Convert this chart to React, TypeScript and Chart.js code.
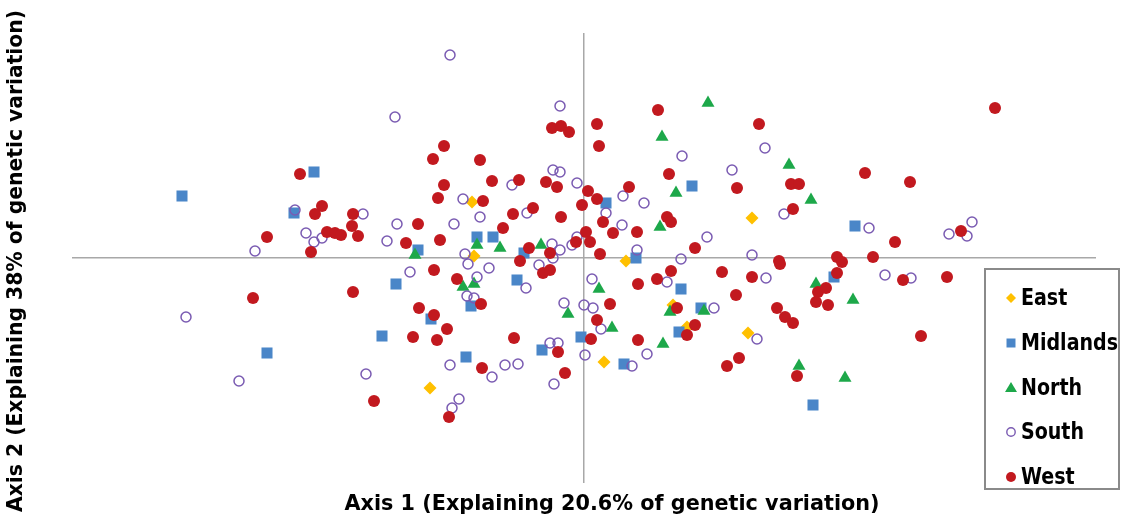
import React, { useEffect, useRef } from 'react';
import { Chart, registerables } from 'chart.js';

Chart.register(...registerables);

// Axis scores (axis 1 = x, axis 2 = y)
const eastPoints: [number, number][] = [
  [-1.12, 0.56], [-1.10, 0.02], [1.68, 0.40], [0.42, -0.03], [0.89, -0.47],
  [1.03, -0.69], [1.64, -0.75], [-1.54, -1.30], [0.20, -1.04],
];

const midlandsPoints: [number, number][] = [
  [-2.70, 0.86], [-4.02, 0.62], [-2.90, 0.45], [1.08, 0.72], [-1.66, 0.08],
  [-1.07, 0.21], [-0.91, 0.21], [-0.60, 0.05], [-0.67, -0.22], [-1.88, -0.26],
  [-1.13, -0.48], [-1.53, -0.61], [-2.02, -0.78], [-0.03, -0.79], [0.22, 0.55],
  [0.52, 0.00], [2.50, -0.19], [0.97, -0.31], [1.17, -0.50], [0.95, -0.74],
  [2.71, 0.32], [-3.17, -0.95], [-0.42, -0.92], [-1.18, -0.99], [0.40, -1.06],
  [2.29, -1.47],
];

const northPoints: [number, number][] = [
  [1.24, 1.55], [0.78, 1.21], [2.05, 0.93], [0.92, 0.65], [-1.69, 0.03],
  [-1.07, 0.13], [-0.84, 0.10], [-0.43, 0.13], [-1.21, -0.29], [-1.10, -0.26],
  [-0.16, -0.56], [2.27, 0.58], [0.76, 0.31], [0.15, -0.31], [2.32, -0.26],
  [2.69, -0.42], [0.86, -0.54], [1.20, -0.53], [0.28, -0.70], [0.79, -0.86],
  [2.15, -1.08], [2.61, -1.20],
];

const southPoints: [number, number][] = [
  [-1.34, 2.03], [-1.89, 1.41], [-0.24, 1.52], [-0.31, 0.88], [-0.24, 0.86],
  [-0.07, 0.75], [-0.72, 0.73], [0.98, 1.02], [1.81, 1.10], [1.48, 0.88],
  [-2.89, 0.48], [-2.78, 0.25], [-2.70, 0.16], [-2.62, 0.20], [-3.29, 0.07],
  [-3.98, -0.59], [-1.21, 0.59], [-2.21, 0.44], [-1.87, 0.34], [-1.30, 0.34],
  [-1.04, 0.41], [-0.57, 0.45], [-1.97, 0.17], [-0.07, 0.21], [-0.32, 0.14],
  [-0.24, 0.08], [-0.31, 0.00], [-0.12, 0.13], [-1.19, 0.04], [-1.16, -0.06],
  [-0.45, -0.07], [-1.74, -0.14], [-0.95, -0.10], [-1.07, -0.19], [-0.58, -0.30],
  [-1.17, -0.38], [-1.10, -0.40], [-0.20, -0.45], [0.00, -0.47], [-0.34, -0.85],
  [-0.26, -0.85], [0.39, 0.62], [0.60, 0.55], [0.22, 0.45], [2.00, 0.44],
  [0.38, 0.33], [1.23, 0.21], [0.53, 0.08], [0.97, -0.01], [0.83, -0.24],
  [1.68, 0.03], [1.82, -0.20], [0.08, -0.21], [0.09, -0.50], [1.30, -0.50],
  [0.17, -0.71], [1.73, -0.81], [2.85, 0.30], [3.65, 0.24], [3.88, 0.36],
  [3.83, 0.22], [3.01, -0.17], [3.27, -0.20], [-3.45, -1.23], [-1.34, -1.07],
  [-0.79, -1.07], [-0.66, -1.06], [-2.18, -1.16], [-0.92, -1.19], [0.01, -0.97],
  [-0.30, -1.26], [-1.25, -1.41], [-1.32, -1.50], [0.48, -1.08], [0.63, -0.96],
];

const westPoints: [number, number][] = [
  [-2.84, 0.84], [-0.32, 1.30], [-0.23, 1.32], [-0.15, 1.26], [-1.40, 1.12],
  [-1.51, 0.99], [-1.04, 0.98], [-0.92, 0.77], [-0.65, 0.78], [-0.38, 0.76],
  [-0.27, 0.71], [-1.40, 0.73], [0.74, 1.48], [0.13, 1.34], [1.75, 1.34],
  [0.15, 1.12], [0.85, 0.84], [0.45, 0.71], [1.53, 0.70], [2.07, 0.74],
  [2.15, 0.74], [0.04, 0.67], [4.11, 1.50], [2.81, 0.85], [3.26, 0.76],
  [-2.62, 0.52], [-2.69, 0.44], [-2.57, 0.26], [-3.17, 0.21], [-2.73, 0.06],
  [-3.31, -0.40], [-1.46, 0.60], [-1.01, 0.57], [-2.31, 0.44], [-1.66, 0.34],
  [-0.71, 0.44], [-0.51, 0.50], [-0.23, 0.41], [-0.02, 0.53], [-0.81, 0.30],
  [-2.32, 0.32], [-2.49, 0.25], [-2.43, 0.23], [-2.26, 0.22], [-1.78, 0.15],
  [-1.44, 0.18], [-0.55, 0.10], [-0.34, 0.05], [-0.08, 0.16], [0.02, 0.26],
  [-0.64, -0.03], [-0.41, -0.15], [-0.34, -0.12], [-1.50, -0.12], [-1.27, -0.21],
  [-2.31, -0.34], [-1.03, -0.46], [-1.65, -0.50], [-1.50, -0.57], [-1.37, -0.71],
  [-1.71, -0.79], [-1.47, -0.82], [-0.70, -0.80], [0.13, 0.59], [2.09, 0.49],
  [0.83, 0.41], [0.87, 0.36], [0.19, 0.36], [0.29, 0.25], [0.53, 0.26],
  [1.11, 0.10], [0.06, 0.16], [0.16, 0.04], [0.87, -0.13], [0.73, -0.21],
  [0.54, -0.26], [1.38, -0.14], [1.95, -0.03], [1.96, -0.06], [1.68, -0.19],
  [2.53, 0.01], [2.58, -0.04], [2.53, -0.15], [1.52, -0.37], [2.34, -0.34],
  [2.42, -0.30], [2.32, -0.44], [2.44, -0.47], [0.26, -0.46], [0.93, -0.50],
  [1.93, -0.50], [2.01, -0.59], [2.09, -0.65], [0.13, -0.62], [1.11, -0.67],
  [1.03, -0.77], [0.54, -0.82], [0.07, -0.81], [3.11, 0.16], [3.77, 0.27],
  [2.89, 0.01], [3.19, -0.22], [3.63, -0.19], [3.37, -0.78], [-0.26, -0.94],
  [-1.02, -1.10], [-0.19, -1.15], [-2.10, -1.43], [-1.35, -1.59], [1.43, -1.08],
  [1.55, -1.00], [2.13, -1.18],
];

const seriesLabels = ['East', 'Midlands', 'North', 'South', 'West'];
const xAxisTitle = 'Axis 1 (Explaining 20.6% of genetic variation)';
const yAxisTitle = 'Axis 2 (Explaining 38% of genetic variation)';
const xRange = [-5.12, 5.12];
const yRange = [-2.25, 2.25];

const COLORS = {
  East: '#FFC000',
  Midlands: '#4A86C8',
  North: '#1DA84A',
  South: '#7A5BB2',
  West: '#C2191F',
};

const FONT_FAMILY = '"DejaVu Sans", Verdana, sans-serif';

function toXY(pts: [number, number][]) {
  return pts.map(([x, y]) => ({ x, y }));
}

function drawFitted(ctx: CanvasRenderingContext2D, text: string, cx: number, cy: number, targetW: number, size: number, rot = 0) {
  ctx.save();
  ctx.font = `bold ${size}px ${FONT_FAMILY}`;
  const w = ctx.measureText(text).width;
  ctx.translate(cx, cy);
  if (rot) ctx.rotate(rot);
  ctx.scale(targetW / w, 1);
  ctx.textAlign = 'center';
  ctx.textBaseline = 'middle';
  ctx.fillStyle = '#000';
  ctx.fillText(text, 0, 0);
  ctx.restore();
}

function drawMarker(ctx: CanvasRenderingContext2D, label: string, x: number, y: number) {
  const c = (COLORS as any)[label];
  ctx.save();
  ctx.beginPath();
  if (label === 'East') {
    const r = 5;
    ctx.moveTo(x, y - r); ctx.lineTo(x + r, y); ctx.lineTo(x, y + r); ctx.lineTo(x - r, y); ctx.closePath();
    ctx.fillStyle = c; ctx.fill();
  } else if (label === 'Midlands') {
    const s = 9;
    ctx.rect(x - s / 2, y - s / 2, s, s);
    ctx.fillStyle = c; ctx.fill();
  } else if (label === 'North') {
    ctx.moveTo(x, y - 6); ctx.lineTo(x + 6, y + 4); ctx.lineTo(x - 6, y + 4); ctx.closePath();
    ctx.fillStyle = c; ctx.fill();
  } else if (label === 'South') {
    ctx.arc(x, y, 4.2, 0, Math.PI * 2);
    ctx.strokeStyle = c; ctx.lineWidth = 1.4; ctx.stroke();
  } else {
    ctx.arc(x, y, 5, 0, Math.PI * 2);
    ctx.fillStyle = c; ctx.fill();
  }
  ctx.restore();
}

const overlayPlugin = {
  id: 'overlayText',
  afterDraw(chart: any) {
    const ctx: CanvasRenderingContext2D = chart.ctx;
    // axis titles
    drawFitted(ctx, xAxisTitle, 612, 505, 535, 21);
    drawFitted(ctx, yAxisTitle, 17, 261, 502, 21, -Math.PI / 2);
    // legend box
    ctx.save();
    ctx.fillStyle = '#ffffff';
    ctx.fillRect(984, 268, 136, 222);
    ctx.strokeStyle = '#8a8a8a';
    ctx.lineWidth = 2;
    ctx.strokeRect(985, 269, 134, 220);
    ctx.font = `bold 23px ${FONT_FAMILY}`;
    const k = 97 / ctx.measureText('Midlands').width;
    const ys = [298, 343, 388, 432, 477];
    chart.data.datasets.forEach((ds: any, i: number) => {
      const y = ys[i];
      drawMarker(ctx, ds.label, 1011, y);
      ctx.save();
      ctx.translate(1021, y + 1);
      ctx.scale(k, 1);
      ctx.font = `bold 23px ${FONT_FAMILY}`;
      ctx.fillStyle = '#000';
      ctx.textAlign = 'left';
      ctx.textBaseline = 'middle';
      ctx.fillText(ds.label, 0, 0);
      ctx.restore();
    });
    ctx.restore();
  },
};

const zeroLine = (ctx: any) => (ctx.tick && ctx.tick.value === 0 ? '#a8a8a8' : 'rgba(0,0,0,0)');

export default function App() {
  const ref = useRef<HTMLCanvasElement | null>(null);
  useEffect(() => {
    if (!ref.current) return;
    const chart = new Chart(ref.current, {
      type: 'scatter',
      data: {
        datasets: [
          { label: seriesLabels[0], data: toXY(eastPoints), pointStyle: 'rectRot', pointRadius: 6.5, backgroundColor: COLORS.East, borderColor: COLORS.East, borderWidth: 0, order: 5 },
          { label: seriesLabels[1], data: toXY(midlandsPoints), pointStyle: 'rect', pointRadius: 7.8, backgroundColor: COLORS.Midlands, borderColor: COLORS.Midlands, borderWidth: 0, order: 4 },
          { label: seriesLabels[2], data: toXY(northPoints), pointStyle: 'triangle', pointRadius: 7.5, backgroundColor: COLORS.North, borderColor: COLORS.North, borderWidth: 0, order: 3 },
          { label: seriesLabels[3], data: toXY(southPoints), pointStyle: 'circle', pointRadius: 5, backgroundColor: 'rgba(0,0,0,0)', borderColor: COLORS.South, borderWidth: 1.5, order: 2 },
          { label: seriesLabels[4], data: toXY(westPoints), pointStyle: 'circle', pointRadius: 6, backgroundColor: COLORS.West, borderColor: COLORS.West, borderWidth: 0, order: 1 },
        ] as any,
      },
      options: {
        animation: false,
        responsive: false,
        events: [],
        layout: { padding: { left: 72, right: 30, top: 33, bottom: 38 } },
        plugins: { legend: { display: false }, tooltip: { enabled: false } },
        scales: {
          x: {
            type: 'linear', min: xRange[0], max: xRange[1],
            ticks: { display: false }, border: { display: false },
            grid: { drawTicks: false, color: zeroLine, lineWidth: 1.5 },
          },
          y: {
            type: 'linear', min: yRange[0], max: yRange[1],
            ticks: { display: false }, border: { display: false },
            grid: { drawTicks: false, color: zeroLine, lineWidth: 1.5 },
          },
        },
      } as any,
      plugins: [overlayPlugin],
    });
    return () => chart.destroy();
  }, []);
  return (
    <div style={{ position: 'fixed', left: 0, top: 0, width: 1126, height: 521, background: '#fff' }}>
      <canvas ref={ref} width={1126} height={521} style={{ display: 'block' }} />
    </div>
  );
}
